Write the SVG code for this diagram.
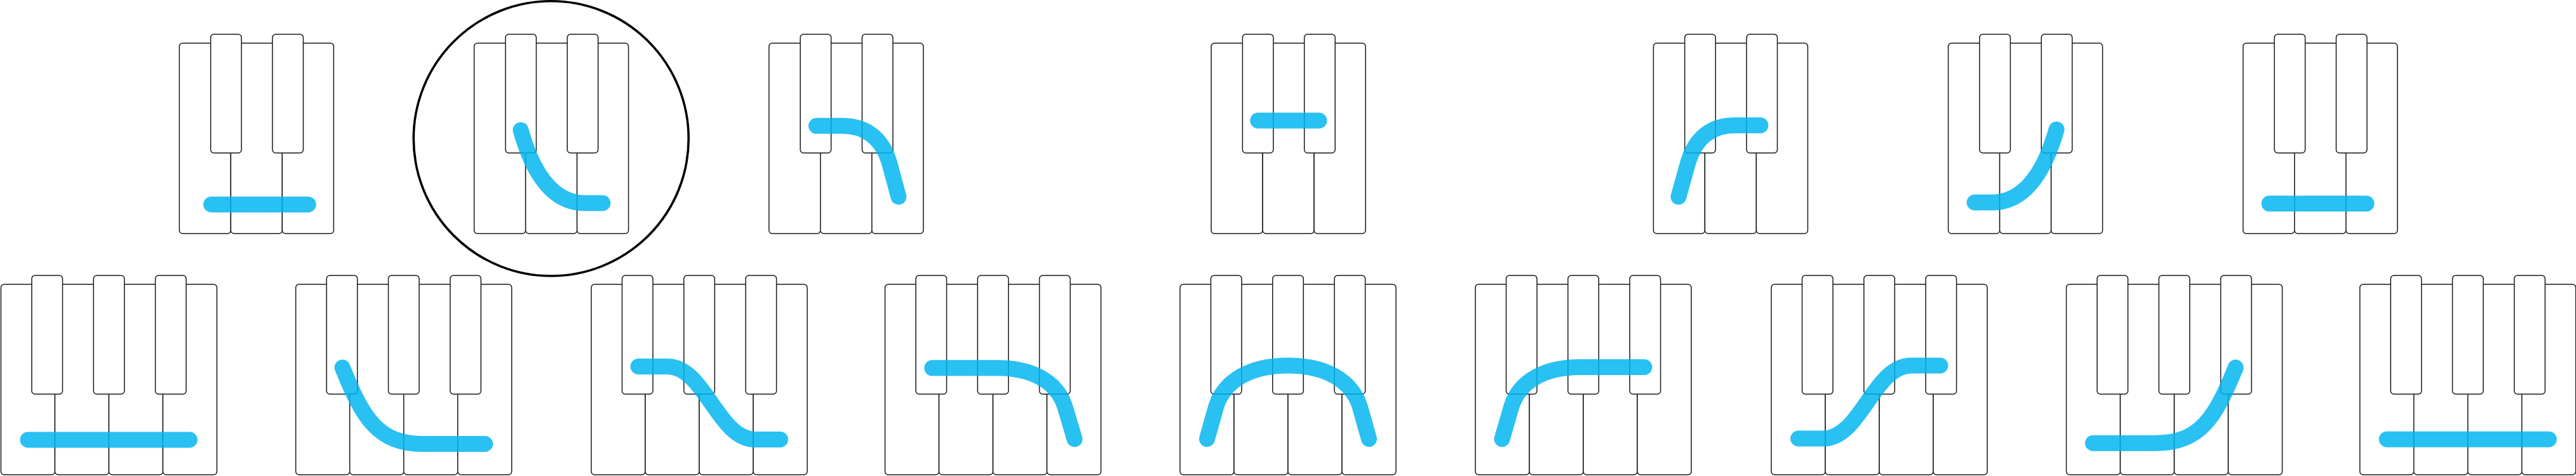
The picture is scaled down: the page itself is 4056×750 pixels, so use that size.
<svg xmlns="http://www.w3.org/2000/svg" xmlns:xlink="http://www.w3.org/1999/xlink" width="4056" height="750" viewBox="0 0 4056 750">
<style>
.wk{fill:#fff;stroke:#1a1a1a;stroke-width:1.5}
.bk{fill:#fff;stroke:#1a1a1a;stroke-width:1.5}
.hand{fill:none;stroke:#00b4f0;stroke-opacity:0.84;stroke-width:25;stroke-linecap:round;stroke-linejoin:round}
.ring{fill:none;stroke:#000;stroke-width:3.6}
</style>
<defs>
<g id="kb3">
<rect class="wk" x="0" y="0" width="81" height="300" rx="5"/>
<rect class="wk" x="81" y="0" width="81" height="300" rx="5"/>
<rect class="wk" x="162" y="0" width="81" height="300" rx="5"/>
<rect class="bk" x="49.3" y="-14" width="48.5" height="187" rx="5"/>
<rect class="bk" x="146.6" y="-14" width="48.5" height="187" rx="5"/>
</g>
<g id="kb4">
<rect class="wk" x="0" y="0" width="85" height="300" rx="5"/>
<rect class="wk" x="85" y="0" width="85" height="300" rx="5"/>
<rect class="wk" x="170" y="0" width="85" height="300" rx="5"/>
<rect class="wk" x="255" y="0" width="85" height="300" rx="5"/>
<rect class="bk" x="48.5" y="-14" width="48.5" height="187" rx="5"/>
<rect class="bk" x="145.8" y="-14" width="48.5" height="187" rx="5"/>
<rect class="bk" x="243.1" y="-14" width="48.5" height="187" rx="5"/>
</g>
</defs>

<g id="top-1" transform="translate(282.4,68)">
<use xlink:href="#kb3" href="#kb3"/>
<path class="hand" d="M 50.3 254.2 L 202.8 254.2"/>
</g>
<g id="top-2" transform="translate(746.6,68)">
<use xlink:href="#kb3" href="#kb3"/>
<path class="hand" d="M 73.3 137 C 92.9 207 124.3 252 174.3 252 L 202.3 252"/>
</g>
<g id="top-3" transform="translate(1210.8,68)">
<use xlink:href="#kb3" href="#kb3"/>
<path class="hand" d="M 74.7 130.3 L 115 130.3 C 150 130.3 178 147 190 190 L 204 242"/>
</g>
<g id="top-4" transform="translate(1907.1,68)">
<use xlink:href="#kb3" href="#kb3"/>
<path class="hand" d="M 73.7 122 L 169.9 122"/>
</g>
<g id="top-5" transform="translate(2603.4,68)">
<use xlink:href="#kb3" href="#kb3"/>
<path class="hand" d="M 39.5 242 L 54 190 C 66 147 93 129.5 128 129.5 L 168.5 129.5"/>
</g>
<g id="top-6" transform="translate(3067.6,68)">
<use xlink:href="#kb3" href="#kb3"/>
<path class="hand" d="M 41.5 251 L 69 251 C 119 251 150.5 206 170.5 136"/>
</g>
<g id="top-7" transform="translate(3531.8,68)">
<use xlink:href="#kb3" href="#kb3"/>
<path class="hand" d="M 41.3 252.8 L 194.2 252.8"/>
</g>

<g id="bottom-1" transform="translate(1.5,448)">
<use xlink:href="#kb4" href="#kb4"/>
<path class="hand" d="M 42.5 245 L 297 245"/>
</g>
<g id="bottom-2" transform="translate(465.7,448)">
<use xlink:href="#kb4" href="#kb4"/>
<path class="hand" d="M 73.4 131 C 105.4 211 130 251.5 200 251.5 L 298 251.5"/>
</g>
<g id="bottom-3" transform="translate(931,448)">
<use xlink:href="#kb4" href="#kb4"/>
<path class="hand" d="M 74 129.5 L 120 129.5 C 178.7 129.5 199.3 244.5 258 244.5 L 297.5 244.5"/>
</g>
<g id="bottom-4" transform="translate(1393.5,448)">
<use xlink:href="#kb4" href="#kb4"/>
<path class="hand" d="M 74.3 131.8 L 176 131.8 C 230 131.8 270 152 283 192 L 298.5 243.8"/>
</g>
<g id="bottom-5" transform="translate(1858,448)">
<use xlink:href="#kb4" href="#kb4"/>
<path class="hand" d="M 42.5 243.7 L 57 192 C 70 152 110 128 170 128 C 230 128 270 152 283 192 L 297.5 243.7"/>
</g>
<g id="bottom-6" transform="translate(2323,448)">
<use xlink:href="#kb4" href="#kb4"/>
<path class="hand" d="M 42 243.7 L 57 192 C 70 152 110 130.5 164 130.5 L 266 130.5"/>
</g>
<g id="bottom-7" transform="translate(2789,448)">
<use xlink:href="#kb4" href="#kb4"/>
<path class="hand" d="M 42.5 243 L 82 243 C 140.7 243 161.3 128 220 128 L 266 128"/>
</g>
<g id="bottom-8" transform="translate(3253.5,448)">
<use xlink:href="#kb4" href="#kb4"/>
<path class="hand" d="M 42 250.2 L 140 250.2 C 210 250.2 234.6 211 266.6 131"/>
</g>
<g id="bottom-9" transform="translate(3715.7,448)">
<use xlink:href="#kb4" href="#kb4"/>
<path class="hand" d="M 42.5 244.2 L 297.5 244.2"/>
</g>

<g id="connectors">
<circle id="highlight" class="ring" cx="867.7" cy="218.3" r="216.5"/>
</g>
</svg>
